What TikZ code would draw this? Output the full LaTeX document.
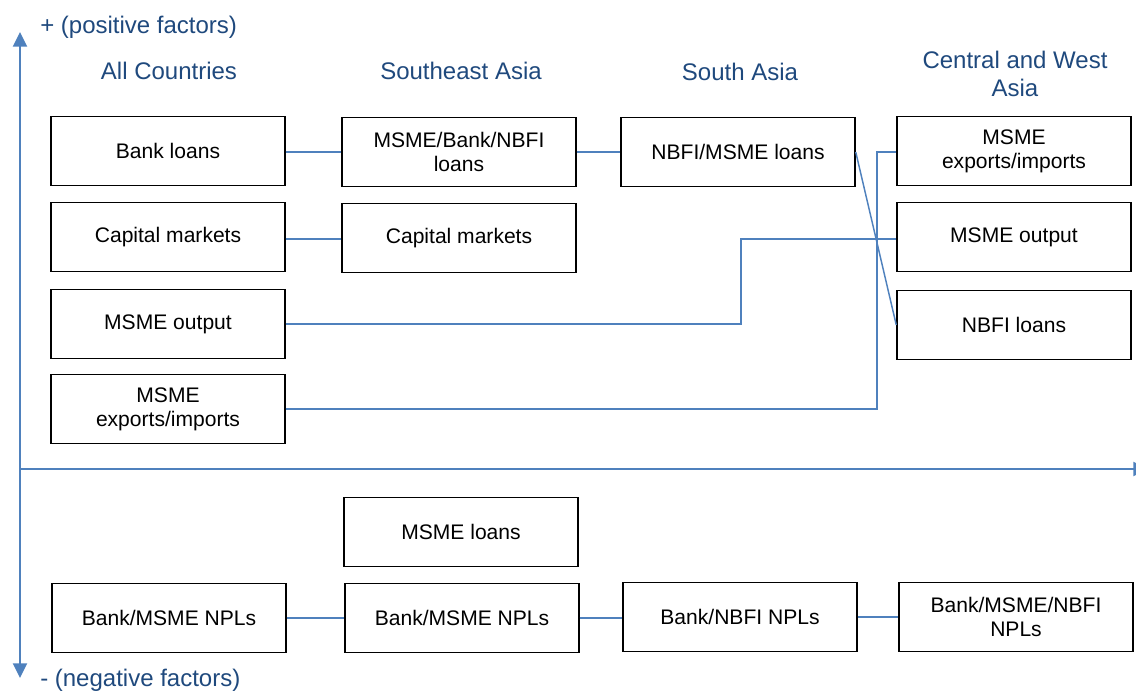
\documentclass[tikz,border=0pt]{standalone}
\usepackage{fontspec}
\setmainfont{Liberation Sans}
\usetikzlibrary{arrows.meta}
\definecolor{axisblue}{HTML}{4F81BD}
\definecolor{headblue}{HTML}{1F497D}
\begin{document}
\begin{tikzpicture}[x=0.75pt,y=-0.75pt,
  factorbox/.style={draw=black,line width=1.1pt,rectangle,minimum width=175.5pt,minimum height=51.75pt,inner sep=0pt,align=center,font=\fontsize{15.8pt}{18pt}\selectfont},
  heading/.style={text=headblue,align=center,font=\fontsize{18pt}{21pt}\selectfont,inner sep=0pt},
  link/.style={draw=axisblue,line width=1.1pt},
  axis/.style={draw=axisblue,line width=1.6pt}]
\clip (0,0) rectangle (1136,692);
\path[use as bounding box] (0,0) rectangle (1136,692);
% axes
\coordinate (top) at (20,32);
\coordinate (bot) at (20,678);
\coordinate (origin) at (20,469);
\coordinate (right) at (1148,469);
\draw[axis,{Triangle[length=11pt,width=10.5pt]}-{Triangle[length=11pt,width=10.5pt]}] (top) -- (bot);
\draw[axis,-{Triangle[length=11pt,width=10.5pt]}] (origin) -- (right);
\node[heading,anchor=west] (pos) at (40,27) {+ (positive factors)};
\node[heading,anchor=west] (neg) at (40,680) {- (negative factors)};
% headings
\node[heading] (hall) at (169,71) {All Countries};
\node[heading] (hsea) at (461,71) {Southeast Asia};
\node[heading] (hsa) at (740,72) {South Asia};
\node[heading] (hcwa) at (1015,74) {Central and West\\Asia};
% positive boxes
\node[factorbox] (a1) at (168,151) {Bank loans};
\node[factorbox] (a2) at (168,237) {Capital markets};
\node[factorbox] (a3) at (168,324) {MSME output};
\node[factorbox] (a4) at (168,409) {MSME\\exports/imports};
\node[factorbox] (s1) at (459,152) {MSME/Bank/NBFI\\loans};
\node[factorbox] (s2) at (459,238) {Capital markets};
\node[factorbox] (t1) at (738,152) {NBFI/MSME loans};
\node[factorbox] (c1) at (1014,151) {MSME\\exports/imports};
\node[factorbox] (c2) at (1014,237) {MSME output};
\node[factorbox] (c3) at (1014,325) {NBFI loans};
% negative boxes
\node[factorbox] (s3) at (461,532) {MSME loans};
\node[factorbox] (a5) at (169,618) {Bank/MSME NPLs};
\node[factorbox] (s4) at (462,618) {Bank/MSME NPLs};
\node[factorbox] (t2) at (740,617) {Bank/NBFI NPLs};
\node[factorbox] (c4) at (1016,617) {Bank/MSME/NBFI\\NPLs};
% connectors
\draw[link] (a1.east |- 0,152) -- (s1.west);
\draw[link] (s1.east) -- (t1.west);
\draw[link] (a2.east |- 0,239) -- (s2.west |- 0,239);
\draw[link] (t1.east) -- (c3.west);
\draw[link] (a3.east) -- (741,324) -- (741,239) -- (c2.west |- 0,239);
\draw[link] (a4.east) -- (877,409) -- (877,152) -- (c1.west |- 0,152);
\draw[link] (a5.east) -- (s4.west);
\draw[link] (s4.east) -- (t2.west |- 0,618);
\draw[link] (t2.east) -- (c4.west);
\end{tikzpicture}
\end{document}
